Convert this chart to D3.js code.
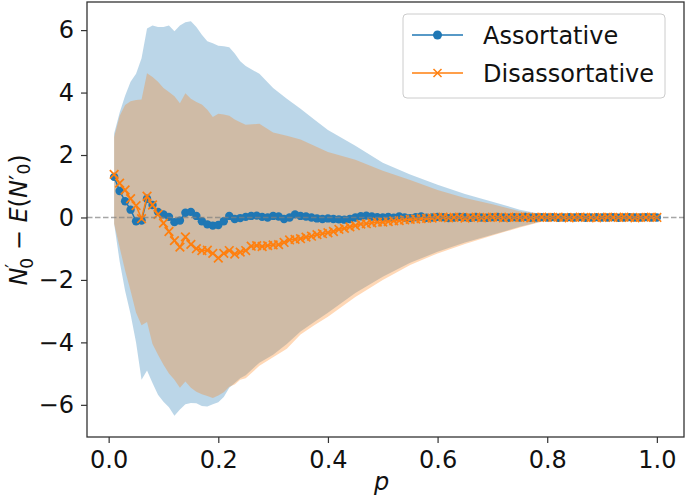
<!DOCTYPE html>
<html><head><meta charset="utf-8">
<script src="https://cdn.jsdelivr.net/npm/d3@7"></script>
<style>body{margin:0;background:#fff}svg{display:block;font-family:"DejaVu Sans",sans-serif}</style>
</head><body><svg id="c" width="685" height="504"></svg>
<script>
// p values for the two mean lines (0.01 .. 1.00)
const pLine = [0.01,0.02,0.03,0.04,0.05,0.06,0.07,0.08,0.09,0.10,0.11,0.12,0.13,0.14,0.15,0.16,0.17,0.18,0.19,0.20,
0.21,0.22,0.23,0.24,0.25,0.26,0.27,0.28,0.29,0.30,0.31,0.32,0.33,0.34,0.35,0.36,0.37,0.38,0.39,0.40,
0.41,0.42,0.43,0.44,0.45,0.46,0.47,0.48,0.49,0.50,0.51,0.52,0.53,0.54,0.55,0.56,0.57,0.58,0.59,0.60,
0.61,0.62,0.63,0.64,0.65,0.66,0.67,0.68,0.69,0.70,0.71,0.72,0.73,0.74,0.75,0.76,0.77,0.78,0.79,0.80,
0.81,0.82,0.83,0.84,0.85,0.86,0.87,0.88,0.89,0.90,0.91,0.92,0.93,0.94,0.95,0.96,0.97,0.98,0.99,1.00];
const assortative = [1.30,0.85,0.52,0.25,-0.12,-0.10,0.60,0.40,0.18,0.10,0.02,-0.15,-0.10,0.15,0.18,0.05,-0.12,-0.22,-0.26,-0.24,
-0.12,0.05,-0.05,-0.02,0.02,0.05,0.06,0.02,0.00,0.05,0.03,-0.05,0.00,0.10,0.05,0.03,0.00,-0.03,-0.05,-0.03,
-0.05,-0.06,-0.07,-0.05,0.00,0.04,0.06,0.03,0.01,0.00,0.02,-0.01,0.03,0.00,-0.02,0.01,0.03,-0.01,0.00,0.02,
0.01,-0.02,0.00,0.02,0.01,-0.01,0.02,0.00,-0.01,0.01,0.02,0.00,-0.01,0.01,0.00,0.02,-0.01,0.00,0.01,0.00,
0.01,-0.01,0.00,0.01,0.00,0.01,-0.01,0.00,0.01,0.00,0.00,0.01,-0.01,0.00,0.01,0.00,0.00,0.01,0.00,0.00];
const disassortative = [1.38,1.10,0.88,0.60,0.38,-0.04,0.68,0.40,0.10,-0.18,-0.45,-0.74,-0.95,-0.62,-0.86,-1.00,-1.06,-1.05,-1.15,-1.30,
-1.15,-1.06,-1.17,-1.11,-1.06,-0.92,-0.90,-0.93,-0.90,-0.88,-0.87,-0.80,-0.72,-0.70,-0.68,-0.63,-0.60,-0.55,-0.52,-0.49,
-0.45,-0.38,-0.35,-0.30,-0.26,-0.21,-0.20,-0.17,-0.15,-0.15,-0.13,-0.11,-0.10,-0.08,-0.06,-0.05,-0.04,-0.03,-0.02,0.00,
0.01,-0.01,0.00,0.01,-0.02,0.00,0.01,-0.01,0.00,0.01,0.00,-0.01,0.01,0.00,0.00,0.01,-0.01,0.00,0.01,0.00,
0.00,0.01,0.00,-0.01,0.00,0.01,0.00,0.00,-0.01,0.00,0.01,0.00,0.00,0.01,0.00,-0.01,0.00,0.00,0.01,0.00];

// p values for the shaded bands
const pBand = [0.01,0.02,0.03,0.04,0.05,0.06,0.07,0.08,0.09,0.10,0.11,0.12,0.13,0.14,0.15,0.16,0.17,0.18,0.19,0.20,0.21,0.22,0.23,0.24,0.25,
0.275,0.30,0.325,0.35,0.375,0.40,0.45,0.50,0.55,0.60,0.65,0.70,0.75,0.80,0.85,0.90,0.95,1.00];
const assortUpper = [2.69,3.35,3.90,4.35,4.60,5.10,6.05,6.15,6.10,6.10,6.15,5.96,6.15,6.25,6.28,6.10,5.85,5.64,5.58,5.50,5.48,5.45,5.25,5.00,4.85,
4.60,4.15,3.80,3.48,3.14,2.80,2.30,1.75,1.38,1.05,0.75,0.50,0.25,0.07,0.05,0.04,0.04,0.04];
const assortLower = [-0.20,-1.40,-2.35,-3.10,-4.00,-5.20,-4.90,-5.30,-5.68,-5.90,-6.08,-6.35,-6.15,-5.98,-5.94,-5.95,-6.04,-6.05,-5.98,-5.92,-5.75,-5.45,-5.30,-5.15,-5.05,
-4.65,-4.40,-4.05,-3.65,-3.35,-3.05,-2.42,-1.90,-1.45,-1.10,-0.80,-0.55,-0.30,-0.08,-0.05,-0.04,-0.04,-0.04];
const disassortUpper = [2.58,3.25,3.60,3.72,3.76,3.78,4.62,4.50,4.35,4.15,4.02,3.88,3.66,3.98,3.80,3.70,3.62,3.45,3.22,3.32,3.30,3.26,3.14,3.05,2.97,
3.00,2.72,2.62,2.50,2.30,2.10,1.85,1.50,1.20,0.88,0.62,0.42,0.20,0.06,0.04,0.03,0.03,0.03];
const disassortLower = [-0.20,-0.95,-1.70,-2.35,-3.05,-3.45,-3.35,-4.05,-4.40,-4.72,-5.00,-5.20,-5.45,-5.25,-5.45,-5.58,-5.66,-5.72,-5.78,-5.70,-5.60,-5.42,-5.35,-5.20,-5.15,
-4.75,-4.48,-4.20,-3.75,-3.45,-3.18,-2.55,-2.00,-1.52,-1.15,-0.85,-0.58,-0.32,-0.09,-0.05,-0.04,-0.04,-0.04];

const xTicks = [0.0,0.2,0.4,0.6,0.8,1.0];
const yTicks = [-6,-4,-2,0,2,4,6];
const seriesNames = ["Assortative","Disassortative"];
const colors = ["#1f77b4","#ff7f0e"];

const L=87,R=684,T=2,B=437;
const svg=d3.select("#c");
const x=d3.scaleLinear().domain([-0.0395,1.0495]).range([L,R]);
const y=d3.scaleLinear().domain([-7.03,6.9]).range([B,T]);

svg.append("defs").append("clipPath").attr("id","pc").append("rect")
  .attr("x",L).attr("y",T).attr("width",R-L).attr("height",B-T);
const g=svg.append("g").attr("clip-path","url(#pc)");

function band(lo,hi,color){
  const area=d3.area().x((d,i)=>x(pBand[i])).y0((d,i)=>y(lo[i])).y1((d,i)=>y(hi[i]));
  g.append("path").attr("d",area(pBand)).attr("fill",color).attr("fill-opacity",0.3);
}
band(assortLower,assortUpper,colors[0]);
band(disassortLower,disassortUpper,colors[1]);

const line=(vals)=>d3.line().x((d,i)=>x(pLine[i])).y((d,i)=>y(vals[i]))(pLine);
g.append("path").attr("d",line(assortative)).attr("fill","none").attr("stroke",colors[0]).attr("stroke-width",1.5);
g.selectAll("circle.a").data(assortative).join("circle").attr("class","a")
  .attr("cx",(d,i)=>x(pLine[i])).attr("cy",d=>y(d)).attr("r",4.2).attr("fill",colors[0]);
g.append("path").attr("d",line(disassortative)).attr("fill","none").attr("stroke",colors[1]).attr("stroke-width",1.5);
const xm=4.3;
g.selectAll("path.xm").data(disassortative).join("path").attr("class","xm")
  .attr("d",(d,i)=>{const cx=x(pLine[i]),cy=y(d);return `M${cx-xm},${cy-xm}L${cx+xm},${cy+xm}M${cx-xm},${cy+xm}L${cx+xm},${cy-xm}`;})
  .attr("stroke",colors[1]).attr("stroke-width",1.7).attr("fill","none");

// zero reference line
g.append("line").attr("x1",L).attr("x2",R).attr("y1",y(0)).attr("y2",y(0))
  .attr("stroke","#808080").attr("stroke-opacity",0.7).attr("stroke-width",1.5).attr("stroke-dasharray","5.5,2.5");

// axes
const fs=24;
const xa=svg.append("g").attr("transform",`translate(0,${B})`)
  .call(d3.axisBottom(x).tickValues(xTicks).tickFormat(d3.format(".1f")).tickSize(6).tickPadding(8));
const ya=svg.append("g").attr("transform",`translate(${L},0)`)
  .call(d3.axisLeft(y).tickValues(yTicks).tickFormat(d3.format("d")).tickSize(6).tickPadding(7));
[xa,ya].forEach(a=>{a.select(".domain").remove();a.selectAll("text").attr("font-size",fs).attr("fill","#111").attr("font-family","DejaVu Sans");
  a.selectAll("line").attr("stroke","#333").attr("stroke-width",1.2);});
svg.append("rect").attr("x",L).attr("y",T).attr("width",R-L).attr("height",B-T)
  .attr("fill","none").attr("stroke","#333").attr("stroke-width",1.3);

// axis labels
svg.append("text").attr("x",(L+R)/2-4).attr("y",490).attr("text-anchor","middle")
  .attr("font-size",fs).attr("font-style","italic").attr("fill","#111").text("p");
const yl=svg.append("text").attr("transform",`translate(27,220) rotate(-90)`).attr("text-anchor","middle")
  .attr("font-size",fs).attr("fill","#111");
yl.append("tspan").attr("font-style","italic").text("N");
yl.append("tspan").attr("font-size",17).attr("dy",-9).text("′");
yl.append("tspan").attr("font-size",17).attr("dx",-5).attr("dy",15).text("0");
yl.append("tspan").attr("dy",-6).text(" − ");
yl.append("tspan").attr("font-style","italic").text("E");
yl.append("tspan").text("(");
yl.append("tspan").attr("font-style","italic").text("N");
yl.append("tspan").text("′");
yl.append("tspan").attr("font-size",17).attr("dy",3).text("0");
yl.append("tspan").attr("dy",-3).text(")");

// legend
const lg=svg.append("g");
lg.append("rect").attr("x",403).attr("y",14).attr("width",262).attr("height",84).attr("rx",4)
  .attr("fill","#fff").attr("fill-opacity",0.8).attr("stroke","#ccc").attr("stroke-width",1);
seriesNames.forEach((n,i)=>{
  const yy=35+i*38;
  lg.append("line").attr("x1",412).attr("x2",463).attr("y1",yy).attr("y2",yy).attr("stroke",colors[i]).attr("stroke-width",1.5);
  if(i===0) lg.append("circle").attr("cx",437.5).attr("cy",yy).attr("r",4.5).attr("fill",colors[0]);
  else lg.append("path").attr("d",`M${433.5},${yy-4}L${441.5},${yy+4}M${433.5},${yy+4}L${441.5},${yy-4}`).attr("stroke",colors[1]).attr("stroke-width",1.5);
  lg.append("text").attr("x",483).attr("y",yy+8.5).attr("font-size",fs).attr("fill","#111").text(n);
});
</script></body></html>
